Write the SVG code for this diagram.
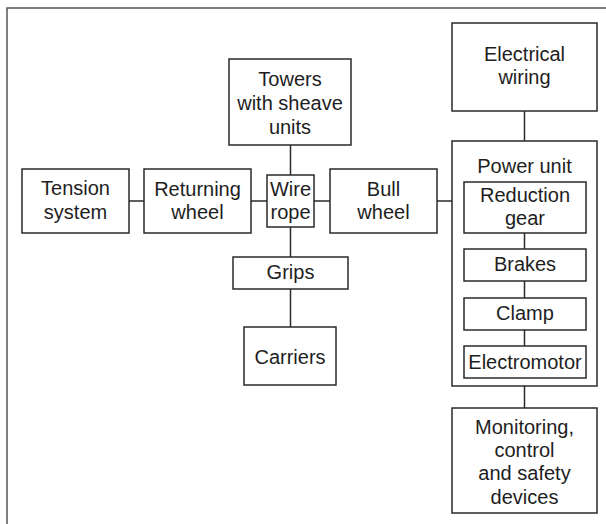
<svg xmlns="http://www.w3.org/2000/svg" width="606" height="524" viewBox="0 0 606 524">
<style>
.box{fill:#fff;stroke:#2a2a2a;stroke-width:1.5}
.frame{fill:none;stroke:#555;stroke-width:1.5}
.c{stroke:#2a2a2a;stroke-width:1.5;fill:none}
text{font-family:"Liberation Sans",Arial,sans-serif;font-size:20px;fill:#1e1e1e;text-anchor:middle}
</style>
<rect width="606" height="524" fill="#fff"/>
<path class="frame" d="M7,524 V8 H606"/>
<g id="tension">
<rect class="box" x="22" y="169" width="107" height="64"/>
<text x="75.5" y="195">Tension</text>
<text x="75.5" y="218.5">system</text>
</g>
<g id="returning">
<rect class="box" x="144" y="169" width="107" height="64"/>
<text x="197.5" y="195.5">Returning</text>
<text x="197.5" y="219">wheel</text>
</g>
<g id="wirerope">
<rect class="box" x="267" y="175" width="47" height="52"/>
<text x="290.5" y="195.5">Wire</text>
<text x="290.5" y="219">rope</text>
</g>
<g id="bull">
<rect class="box" x="330" y="169" width="107" height="64"/>
<text x="383.5" y="195.5">Bull</text>
<text x="383.5" y="219">wheel</text>
</g>
<g id="towers">
<rect class="box" x="229" y="59" width="122" height="86"/>
<text x="290" y="86">Towers</text>
<text x="290" y="110">with sheave</text>
<text x="290" y="134">units</text>
</g>
<g id="grips">
<rect class="box" x="233" y="257" width="115" height="32"/>
<text x="290.5" y="279">Grips</text>
</g>
<g id="carriers">
<rect class="box" x="244" y="327" width="92" height="58"/>
<text x="290" y="363.5">Carriers</text>
</g>
<g id="electrical">
<rect class="box" x="452" y="23" width="145" height="88"/>
<text x="524.5" y="61">Electrical</text>
<text x="524.5" y="84">wiring</text>
</g>
<g id="powerunit">
<rect class="box" x="452" y="141" width="145" height="245"/>
<text x="524.5" y="172.5">Power unit</text>
</g>
<g id="reduction">
<rect class="box" x="464" y="182" width="122" height="51"/>
<text x="525" y="202">Reduction</text>
<text x="525" y="225">gear</text>
</g>
<g id="brakes">
<rect class="box" x="464" y="249" width="122" height="32"/>
<text x="525" y="271">Brakes</text>
</g>
<g id="clamp">
<rect class="box" x="464" y="298" width="122" height="32"/>
<text x="525" y="320">Clamp</text>
</g>
<g id="electromotor">
<rect class="box" x="464" y="346" width="122" height="32"/>
<text x="525" y="369">Electromotor</text>
</g>
<g id="monitoring">
<rect class="box" x="452" y="408" width="145" height="105"/>
<text x="524.5" y="433.5">Monitoring,</text>
<text x="524.5" y="456.5">control</text>
<text x="524.5" y="480">and safety</text>
<text x="524.5" y="503.5">devices</text>
</g>
<g id="connectors">
<line class="c" x1="129" y1="201" x2="144" y2="201"/>
<line class="c" x1="251" y1="201" x2="267" y2="201"/>
<line class="c" x1="314" y1="201" x2="330" y2="201"/>
<line class="c" x1="437" y1="201" x2="452" y2="201"/>
<line class="c" x1="290.5" y1="145" x2="290.5" y2="175"/>
<line class="c" x1="290.5" y1="227" x2="290.5" y2="257"/>
<line class="c" x1="290.5" y1="289" x2="290.5" y2="327"/>
<line class="c" x1="524.5" y1="111" x2="524.5" y2="141"/>
<line class="c" x1="524.5" y1="233" x2="524.5" y2="249"/>
<line class="c" x1="524.5" y1="281" x2="524.5" y2="298"/>
<line class="c" x1="524.5" y1="330" x2="524.5" y2="346"/>
<line class="c" x1="524.5" y1="386" x2="524.5" y2="408"/>
</g>
</svg>
